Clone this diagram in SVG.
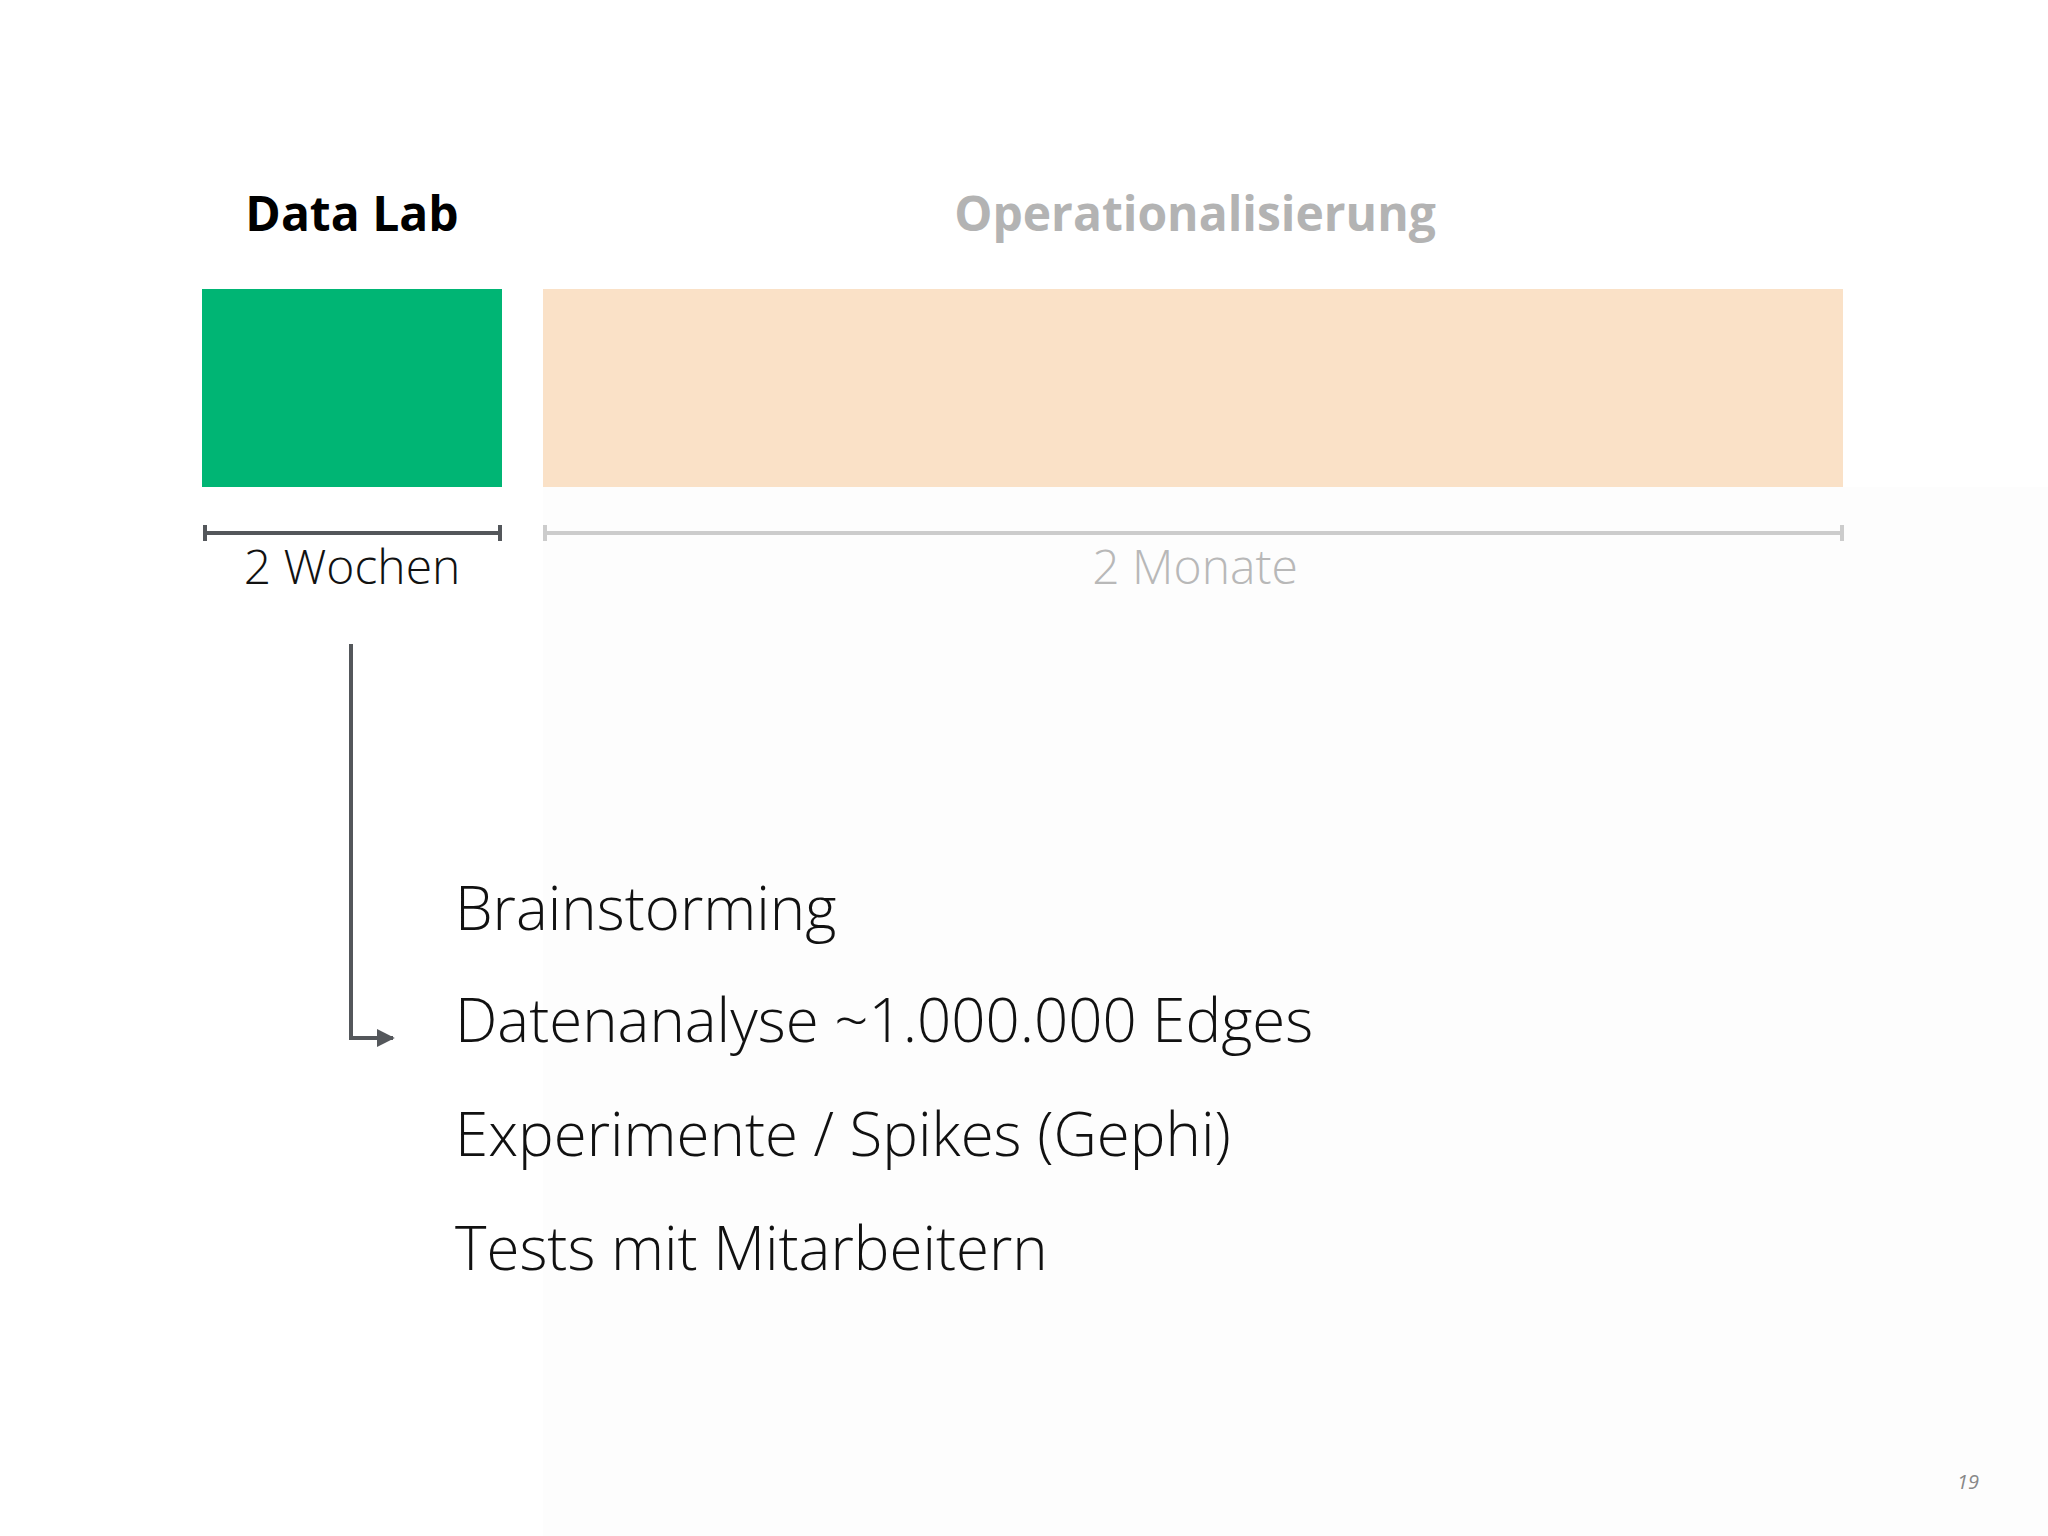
<svg xmlns="http://www.w3.org/2000/svg" width="2048" height="1536" viewBox="0 0 2048 1536">
<style>
.title{font-family:"Open Sans","Liberation Sans",sans-serif;font-weight:700;font-size:48px}
.dur{font-family:"Open Sans","Liberation Sans",sans-serif;font-weight:300;font-size:48px}
.item{font-family:"Open Sans","Liberation Sans",sans-serif;font-weight:300;font-size:60px;fill:#111}
.pg{font-family:"Open Sans","Liberation Sans",sans-serif;font-style:italic;font-size:20px;fill:#888}
</style>
<defs>
<marker id="arr" viewBox="0 0 10 10" refX="9" refY="5" markerWidth="18" markerHeight="18" markerUnits="userSpaceOnUse" orient="auto">
<path d="M0,0 L10,5 L0,10 Z" fill="#54575b"/>
</marker>
</defs>
<rect width="2048" height="1536" fill="#ffffff"/>
<rect x="543" y="487" width="1505" height="1049" fill="#fdfdfd"/>
<g id="datalab">
<text class="title" x="352" y="231" text-anchor="middle" fill="#000">Data Lab</text>
<rect x="202" y="289" width="300" height="198" fill="#00b574"/>
<path d="M205,533 H500 M205,525 V541 M500,525 V541" stroke="#54575b" stroke-width="4" fill="none"/>
<text class="dur" x="352" y="584" text-anchor="middle" fill="#111">2 Wochen</text>
</g>
<g id="operationalisierung">
<text class="title" x="1195" y="231" text-anchor="middle" fill="#b3b3b3">Operationalisierung</text>
<rect x="543" y="289" width="1300" height="198" fill="#fae1c7"/>
<path d="M545,533 H1842 M545,525 V541 M1842,525 V541" stroke="#cccccc" stroke-width="4" fill="none"/>
<text class="dur" x="1195" y="584" text-anchor="middle" fill="#b8b8b8">2 Monate</text>
</g>
<g id="connectors">
<path d="M351,644 V1038 H393" stroke="#54575b" stroke-width="4" fill="none" marker-end="url(#arr)"/>
</g>
<g id="tasks">
<text class="item" x="455" y="930">Brainstorming</text>
<text class="item" x="455" y="1042">Datenanalyse ~1.000.000 Edges</text>
<text class="item" x="455" y="1156">Experimente / Spikes (Gephi)</text>
<text class="item" x="455" y="1270">Tests mit Mitarbeitern</text>
</g>
<text class="pg" x="1979" y="1489" text-anchor="end">19</text>
</svg>
